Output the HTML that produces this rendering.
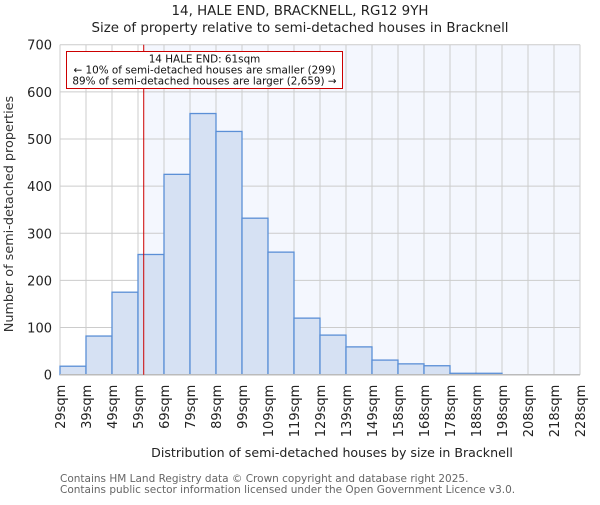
<!DOCTYPE html>
<html><head><meta charset="utf-8"><style>
body{margin:0;background:#fff}
svg text{font-family:"DejaVu Sans","Liberation Sans",sans-serif}
</style></head><body>
<svg id="chart" width="600" height="500" xmlns="http://www.w3.org/2000/svg">
<text x="300" y="15" text-anchor="middle" font-size="13.4" fill="#222">14, HALE END, BRACKNELL, RG12 9YH</text>
<text x="300" y="32" text-anchor="middle" font-size="13.4" fill="#222">Size of property relative to semi-detached houses in Bracknell</text>
<g id="plot"></g>
<text transform="translate(13,214) rotate(-90)" text-anchor="middle" font-size="12.8" fill="#333">Number of semi-detached properties</text>
<text x="332" y="457" text-anchor="middle" font-size="12.6" fill="#222">Distribution of semi-detached houses by size in Bracknell</text>
<text x="60" y="482" font-size="10.5" fill="#666">Contains HM Land Registry data © Crown copyright and database right 2025.</text>
<text x="60" y="493" font-size="10.5" fill="#666">Contains public sector information licensed under the Open Government Licence v3.0.</text>
</svg>
<script>
const categories=["29sqm","39sqm","49sqm","59sqm","69sqm","79sqm","89sqm","99sqm","109sqm","119sqm","129sqm","139sqm","149sqm","158sqm","168sqm","178sqm","188sqm","198sqm","208sqm","218sqm","228sqm"];
const counts=[18,82,175,255,425,554,516,332,260,120,84,59,31,23,19,3,3,0,0,0];
const yTicks=[0,100,200,300,400,500,600,700];
const markerBin=3.22;
const NS="http://www.w3.org/2000/svg";
const X0=60,X1=580,Y0=374.7,Y1=44.7,YMAX=700;
const nb=counts.length;
function xs(i){return X0+(X1-X0)*i/nb;}
function ys(v){return Y0-(Y0-Y1)*v/YMAX;}
const g=document.getElementById('plot');
function mk(t,a){const e=document.createElementNS(NS,t);for(const k in a)e.setAttribute(k,a[k]);g.appendChild(e);return e;}
const mx=xs(markerBin);
let bg=mk('rect',{x:X0,y:Y1,width:X1-X0,height:Y0-Y1,fill:'#fff'});


let sh=mk('rect',{x:mx,y:Y1,width:X1-mx,height:Y0-Y1,fill:'#f4f7fe'});


yTicks.forEach(v=>{
 let l=mk('line',{x1:X0,x2:X1,y1:ys(v),y2:ys(v),stroke:'#cccccc','stroke-width':1});
 
 
 let t=mk('text',{x:X0-8,y:ys(v)+5,'text-anchor':'end','font-size':13,fill:'#222'});
 t.textContent=v;
 
 
});
for(let i=0;i<=nb;i++){
 let l=mk('line',{x1:xs(i),x2:xs(i),y1:Y1,y2:Y0,stroke:'#cccccc','stroke-width':1});
 
 
}
counts.forEach((c,i)=>{
 if(c<=0)return;
 let r=mk('rect',{x:xs(i),y:ys(c),width:xs(i+1)-xs(i),height:Y0-ys(c),fill:'#d6e1f3',stroke:'#5b8fd6','stroke-width':1.3});
 
 
});
let ax=mk('line',{x1:X0,x2:X1,y1:Y0,y2:Y0,stroke:'#bbb','stroke-width':1.5});


categories.forEach((c,i)=>{
 let t=mk('text',{transform:`translate(${xs(i)+5},${Y0+10}) rotate(-90)`,'text-anchor':'end','font-size':13,fill:'#222'});
 t.textContent=c;
 
 
});
let ml=mk('line',{x1:mx,x2:mx,y1:Y1,y2:Y0,stroke:'#cc0000','stroke-width':1});


let box=mk('rect',{x:66.5,y:51.5,width:276,height:37,fill:'#fff',stroke:'#cc0000','stroke-width':1});


["14 HALE END: 61sqm","← 10% of semi-detached houses are smaller (299)","89% of semi-detached houses are larger (2,659) →"].forEach((s,k)=>{
 let t=mk('text',{x:204.5,y:62.5+k*11,'text-anchor':'middle','font-size':10.4,fill:'#111'});
 t.textContent=s;
 
 
});
</script>
</body></html>
